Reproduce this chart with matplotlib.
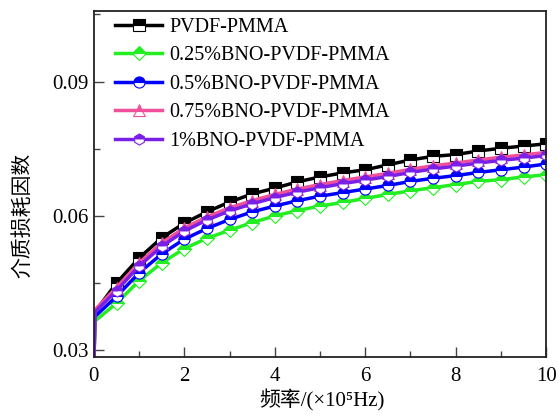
import matplotlib.pyplot as plt
from matplotlib.ticker import MultipleLocator

# Data
freq = [0.0, 0.02, 0.5, 1.0, 1.5, 2.0, 2.5, 3.0, 3.5, 4.0, 4.5, 5.0,
        5.5, 6.0, 6.5, 7.0, 7.5, 8.0, 8.5, 9.0, 9.5, 10.0]

pvdf_pmma = [0.026, 0.0385, 0.0450, 0.0506, 0.0551, 0.0584, 0.0609, 0.0631, 0.0649, 0.0662, 0.0676,
             0.0687, 0.0696, 0.0703, 0.0714, 0.0725, 0.0733, 0.0737, 0.0745, 0.0751, 0.0756, 0.0761]
bno_025 = [0.026, 0.0365, 0.0405, 0.0455, 0.0495, 0.0527, 0.0550, 0.0568, 0.0585, 0.0600, 0.0612,
           0.0622, 0.0630, 0.0639, 0.0648, 0.0656, 0.0663, 0.0670, 0.0677, 0.0681, 0.0687, 0.0692]
bno_05 = [0.026, 0.0375, 0.0420, 0.0473, 0.0515, 0.0548, 0.0572, 0.0592, 0.0609, 0.0622, 0.0634,
          0.0644, 0.0652, 0.0660, 0.0668, 0.0677, 0.0684, 0.0690, 0.0697, 0.0703, 0.0709, 0.0716]
bno_075 = [0.026, 0.0390, 0.0440, 0.0495, 0.0540, 0.0573, 0.0598, 0.0618, 0.0634, 0.0648, 0.0660,
           0.0670, 0.0679, 0.0687, 0.0695, 0.0704, 0.0712, 0.0718, 0.0725, 0.0731, 0.0736, 0.0742]
bno_1 = [0.026, 0.0385, 0.0433, 0.0488, 0.0532, 0.0566, 0.0591, 0.0611, 0.0627, 0.0641, 0.0653,
         0.0663, 0.0672, 0.0680, 0.0688, 0.0697, 0.0705, 0.0711, 0.0718, 0.0724, 0.0729, 0.0735]

labels = ["PVDF-PMMA", "0.25%BNO-PVDF-PMMA", "0.5%BNO-PVDF-PMMA",
          "0.75%BNO-PVDF-PMMA", "1%BNO-PVDF-PMMA"]
colors = ["#000000", "#22ee22", "#0000ff", "#f0509b", "#7a1fe6"]
markers = ["s", "D", "o", "^", "h"]

plt.rcParams["font.family"] = ["Liberation Serif", "Noto Sans CJK SC"]

fig = plt.figure(figsize=(5.59, 4.16), dpi=100)
ax = fig.add_axes([0.168, 0.142, 0.809, 0.832])

for ys, lab, c, m in zip([pvdf_pmma, bno_025, bno_05, bno_075, bno_1], labels, colors, markers):
    ax.plot(freq, ys, color=c, lw=2.5, marker=m, markersize=8 if m != "D" else 7,
            fillstyle="top", markerfacecoloralt="white", markeredgecolor=c,
            markeredgewidth=0.8, markevery=list(range(2, len(freq))), label=lab)

ax.set_xlim(0, 10)
ax.set_ylim(0.0285, 0.1058)
ax.xaxis.set_major_locator(MultipleLocator(2))
ax.xaxis.set_minor_locator(MultipleLocator(1))
ax.yaxis.set_major_locator(MultipleLocator(0.03))
ax.yaxis.set_minor_locator(MultipleLocator(0.015))
ax.tick_params(which="both", direction="in", labelsize=15, color="#444444")
ax.tick_params(which="major", length=7, width=1)
ax.tick_params(which="minor", length=4, width=1)
ax.tick_params(axis="x", pad=7)
ax.tick_params(axis="y", pad=4)
for s in ax.spines.values():
    s.set_linewidth(1.3)
    s.set_color("#222222")

ax.set_xlabel("频率/(×10⁵Hz)", fontsize=15)
ax.xaxis.set_label_coords(0.505, -0.095)
ax.set_ylabel("介质损耗因数", fontsize=15, family=["Noto Sans CJK SC"])
ax.yaxis.set_label_coords(-0.135, 0.408)

ax.legend(loc="upper left", bbox_to_anchor=(0.029, 1.004), frameon=False, fontsize=14.5,
          handlelength=2.35, labelspacing=0.47, borderaxespad=0.0, handletextpad=0.35)

fig.savefig("out.png", dpi=100)
